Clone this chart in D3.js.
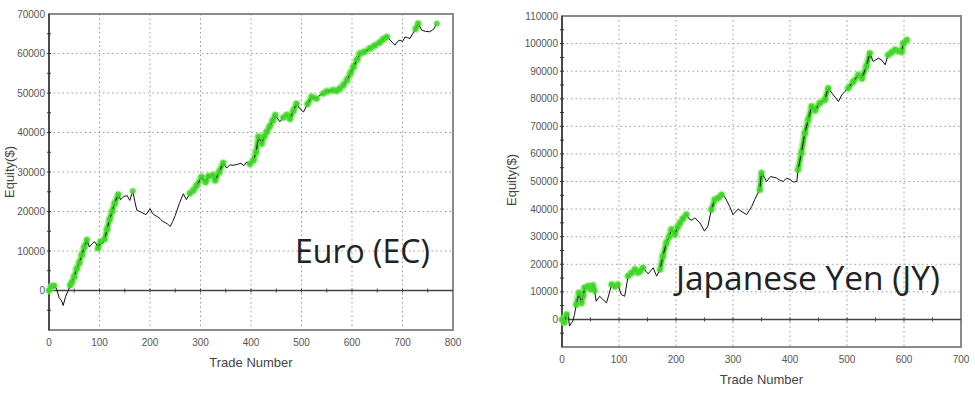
<!DOCTYPE html>
<html>
<head>
<meta charset="utf-8">
<script src="https://cdn.jsdelivr.net/npm/d3@7"></script>
<style>
  body { margin: 0; background: #fff; }
  svg { display: block; }
  .tick-label { font-family: "Liberation Sans", Arial, sans-serif; font-size: 10px; fill: #555; }
  .axis-title { font-family: "Liberation Sans", Arial, sans-serif; font-size: 13px; fill: #444; }
  .note { font-family: "Open Sans", sans-serif; fill: #222; }
</style>
</head>
<body>
<svg id="chart" width="975" height="399"></svg>
<script>
// Euro (EC) equity curve
const euroTrades = [0, 5, 10, 15, 20, 25, 28, 33, 38, 42, 45, 50, 55, 60, 65, 70, 75, 80, 85, 90, 95, 97, 102, 106, 110, 115, 120, 125, 130, 137, 142, 148, 155, 160, 166, 170, 174, 180, 186, 192, 200, 205, 210, 215, 220, 225, 230, 235, 240, 245, 250, 258, 266, 272, 279, 286, 292, 302, 310, 316, 325, 329, 337, 345, 352, 358, 365, 372, 380, 386, 391, 398, 405, 410, 415, 421, 426, 431, 437, 443, 448, 457, 464, 471, 477, 484, 490, 497, 504, 512, 520, 530, 537, 543, 550, 563, 570, 576, 583, 590, 597, 603, 610, 616, 624, 636, 645, 655, 662, 669, 675, 680, 685, 690, 695, 700, 705, 710, 715, 720, 726, 731, 738, 746, 754, 762, 768];
const euroEquity = [0, 1000, 1200, 400, -1800, -2600, -3800, -1500, 0, 1300, 2000, 3500, 5500, 7000, 9000, 11000, 12800, 11000, 11800, 12400, 11500, 10700, 12400, 11800, 13000, 15500, 18000, 20000, 22000, 24300, 23000, 23800, 24000, 22800, 25200, 22500, 20300, 20000, 19600, 19200, 20700, 19500, 19000, 18700, 18200, 17500, 17200, 16800, 16200, 17500, 19000, 22000, 24500, 23000, 24600, 25400, 26500, 28700, 27500, 28900, 29200, 27900, 30000, 32300, 31000, 31800, 31700, 31900, 32200, 31600, 32500, 32000, 33000, 35000, 38900, 37200, 39000, 40100, 41500, 43000, 44400, 42700, 43800, 44400, 43500, 45500, 47300, 46000, 45200, 47200, 49000, 48600, 49500, 49900, 50400, 50700, 50600, 51100, 52000, 53300, 55000, 56600, 58500, 60000, 60400, 61300, 62000, 62800, 63600, 64200, 63500, 62800, 62100, 63000, 63400, 63000, 64200, 64000, 63800, 65000, 66200, 67600, 65900, 65600, 65500, 66200, 67600];
// trade ranges drawn in green (new equity highs)
const euroHighRuns = [[0, 12], [40, 76], [97, 102], [108, 140], [164, 169], [276, 348], [398, 451], [464, 494], [512, 530], [540, 672], [722, 735], [766, 770]];

// Japanese Yen (JY) equity curve
const jyTrades = [0, 4, 8, 11, 13, 16, 19, 22, 25, 30, 34, 37, 40, 46, 50, 54, 57, 60, 66, 72, 78, 83, 87, 93, 98, 104, 110, 116, 122, 128, 133, 137, 142, 151, 160, 166, 172, 177, 183, 188, 192, 198, 203, 207, 212, 218, 224, 228, 233, 242, 250, 256, 262, 268, 274, 280, 286, 294, 300, 309, 316, 324, 333, 338, 343, 347, 350, 355, 359, 366, 376, 382, 388, 394, 400, 406, 412, 414, 420, 426, 432, 438, 444, 452, 461, 467, 472, 476, 485, 491, 496, 502, 511, 520, 526, 534, 540, 546, 555, 561, 567, 572, 578, 584, 590, 596, 599, 605];
const jyEquity = [0, -1000, 1800, 2200, -2400, -1500, -600, 1800, 5400, 9600, 6000, 8500, 11500, 12000, 11000, 12300, 10500, 6600, 8400, 7200, 6000, 9500, 12700, 12000, 12700, 9000, 8400, 15700, 16800, 18100, 17000, 17500, 18700, 16500, 18700, 15700, 18100, 22900, 27700, 30000, 32600, 30800, 33500, 35000, 36500, 38000, 36200, 36000, 36800, 35000, 32000, 33800, 39800, 43400, 44000, 45200, 44300, 41000, 38000, 40000, 39000, 38000, 41000, 43400, 45500, 47000, 53100, 51500, 50000, 51800, 51300, 50500, 50000, 51200, 50700, 49800, 50000, 54300, 60300, 67500, 72400, 77200, 75800, 78400, 79600, 83800, 82500, 81400, 79000, 81400, 82600, 83800, 86200, 88600, 87400, 91700, 96500, 93500, 94700, 94000, 92300, 95900, 96800, 97700, 97300, 97000, 100100, 101300];
const jyHighRuns = [[0, 10], [25, 57], [85, 100], [114, 145], [172, 222], [262, 282], [345, 352], [414, 470], [500, 541], [572, 606]];

const euroXTicks = d3.range(0, 801, 100);
const euroYTicks = d3.range(0, 70001, 10000);
const jyXTicks = d3.range(0, 701, 100);
const jyYTicks = d3.range(0, 110001, 10000);

const svg = d3.select("#chart");

function drawEquity(cfg) {
  const x = d3.scaleLinear().domain(cfg.xDomain).range([cfg.left, cfg.right]);
  const y = d3.scaleLinear().domain(cfg.yDomain).range([cfg.bottom, cfg.top]);
  const g = svg.append("g");

  // dotted grid
  g.append("g").selectAll("line").data(cfg.xTicks.filter(d => d > cfg.xDomain[0] && d < cfg.xDomain[1]))
    .join("line")
    .attr("x1", d => x(d)).attr("x2", d => x(d))
    .attr("y1", cfg.top).attr("y2", cfg.bottom)
    .attr("stroke", "#999").attr("stroke-width", 1).attr("stroke-dasharray", "1.5,3");
  g.append("g").selectAll("line").data(cfg.yTicks.filter(d => d > 0 && d < cfg.yDomain[1]))
    .join("line")
    .attr("x1", cfg.left).attr("x2", cfg.right)
    .attr("y1", d => y(d)).attr("y2", d => y(d))
    .attr("stroke", "#999").attr("stroke-width", 1).attr("stroke-dasharray", "1.5,3");

  // frame
  g.append("rect")
    .attr("x", cfg.left).attr("y", cfg.top)
    .attr("width", cfg.right - cfg.left).attr("height", cfg.bottom - cfg.top)
    .attr("fill", "none").attr("stroke", "#8a8a8a").attr("stroke-width", 2);

  // left axis with minor ticks
  g.append("line")
    .attr("x1", cfg.left).attr("x2", cfg.left).attr("y1", cfg.top).attr("y2", cfg.bottom)
    .attr("stroke", "#333").attr("stroke-width", 1.5);
  const minorY = d3.range(cfg.yDomain[0] + 5000, cfg.yDomain[1], 5000);
  g.append("g").selectAll("line").data(minorY)
    .join("line")
    .attr("x1", cfg.left - 2).attr("x2", cfg.left + 2)
    .attr("y1", d => y(d)).attr("y2", d => y(d))
    .attr("stroke", "#333");

  // zero line with ticks every 50 trades
  g.append("line")
    .attr("x1", cfg.left).attr("x2", cfg.right).attr("y1", y(0)).attr("y2", y(0))
    .attr("stroke", "#444").attr("stroke-width", 1.5);
  g.append("g").selectAll("line").data(d3.range(50, cfg.xDomain[1], 50))
    .join("line")
    .attr("x1", d => x(d)).attr("x2", d => x(d))
    .attr("y1", y(0) - 2).attr("y2", y(0) + 2)
    .attr("stroke", "#444");

  // tick labels
  g.append("g").selectAll("text").data(cfg.yTicks)
    .join("text").attr("class", "tick-label")
    .attr("x", cfg.left - 4).attr("y", d => y(d)).attr("dy", "0.35em")
    .attr("text-anchor", "end").text(d => d);
  g.append("g").selectAll("text").data(cfg.xTicks)
    .join("text").attr("class", "tick-label")
    .attr("x", d => x(d)).attr("y", cfg.bottom + 16)
    .attr("text-anchor", "middle").text(d => d);

  g.append("text").attr("class", "axis-title")
    .attr("x", (cfg.left + cfg.right) / 2).attr("y", cfg.bottom + 37)
    .attr("text-anchor", "middle").text("Trade Number");
  g.append("text").attr("class", "axis-title")
    .attr("transform", `translate(${cfg.yTitleX},${cfg.yTitleY}) rotate(-90)`)
    .attr("text-anchor", "middle").text("Equity($)");

  const inRun = t => cfg.runs.some(r => t >= r[0] && t <= r[1]);
  const pts = cfg.trades.map((t, i) => ({ t, v: cfg.equity[i], high: inRun(t) }));

  // green band along new-high runs
  const green = g.append("g");
  for (let i = 1; i < pts.length; i++) {
    if (pts[i].high && pts[i - 1].high) {
      const seg = green.append("g");
      seg.append("line")
        .attr("x1", x(pts[i - 1].t)).attr("y1", y(pts[i - 1].v))
        .attr("x2", x(pts[i].t)).attr("y2", y(pts[i].v))
        .attr("stroke", "#8ded70").attr("stroke-width", 8).attr("stroke-linecap", "round")
        .attr("opacity", 0.55);
      seg.append("line")
        .attr("x1", x(pts[i - 1].t)).attr("y1", y(pts[i - 1].v))
        .attr("x2", x(pts[i].t)).attr("y2", y(pts[i].v))
        .attr("stroke", "#3fd52a").attr("stroke-width", 4.5).attr("stroke-linecap", "round");
    }
  }

  const line = d3.line().x(d => x(d.t)).y(d => y(d.v));
  g.append("path").datum(pts)
    .attr("d", line)
    .attr("fill", "none").attr("stroke", "#111").attr("stroke-width", 1);

  g.append("g").selectAll("circle").data(pts.filter(d => d.high))
    .join("circle")
    .attr("cx", d => x(d.t)).attr("cy", d => y(d.v)).attr("r", 3)
    .attr("fill", "#45d930").attr("opacity", 0.85);

  g.append("text").attr("class", "note")
    .attr("x", cfg.noteX).attr("y", cfg.noteY)
    .attr("font-size", cfg.noteSize)
    .text(cfg.note);
}

drawEquity({
  trades: euroTrades, equity: euroEquity, runs: euroHighRuns,
  xDomain: [0, 800], yDomain: [-10000, 70000],
  xTicks: euroXTicks, yTicks: euroYTicks,
  left: 49, right: 453, top: 14, bottom: 330,
  yTitleX: 14, yTitleY: 172,
  note: "Euro (EC)", noteX: 295, noteY: 263, noteSize: 32
});

drawEquity({
  trades: jyTrades, equity: jyEquity, runs: jyHighRuns,
  xDomain: [0, 700], yDomain: [-10000, 110000],
  xTicks: jyXTicks, yTicks: jyYTicks,
  left: 562, right: 961, top: 16, bottom: 347,
  yTitleX: 516, yTitleY: 180,
  note: "Japanese Yen (JY)", noteX: 676, noteY: 290, noteSize: 33.5
});
</script>
</body>
</html>
